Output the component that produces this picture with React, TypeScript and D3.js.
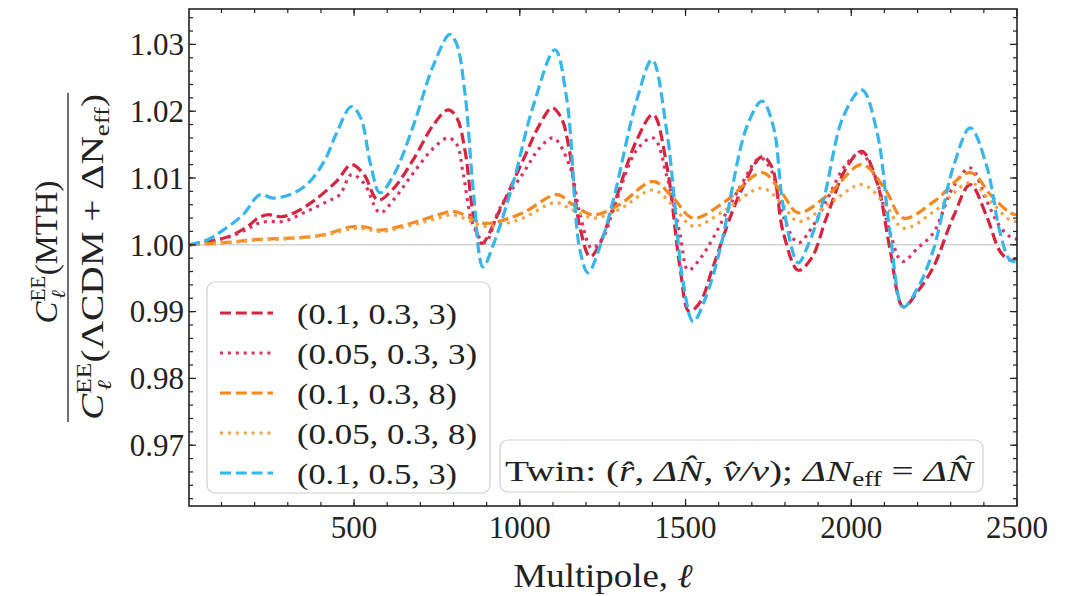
import React from 'react';
import * as d3 from 'd3';

// series labels / styles (legend order = draw order)
const labels = ['(0.1, 0.3, 3)', '(0.05, 0.3, 3)', '(0.1, 0.3, 8)', '(0.05, 0.3, 8)', '(0.1, 0.5, 3)'];
const colors = ['#d8233f', '#d9335d', '#f5891f', '#f8a23f', '#35b6ef'];
const dashes = ['11,4.8', '3,4.9', '11,4.8', '3,4.9', '11,4.8'];

// (0.1, 0.3, 3)
const ellRedDash = [2, 60, 125, 180, 210, 240, 280, 320, 376, 447, 492, 530, 572, 620, 678, 740, 784, 810, 835, 860, 885, 940, 1010, 1060, 1097, 1125, 1150, 1181, 1212, 1240, 1282, 1353, 1402, 1444, 1483, 1511, 1545, 1583, 1665, 1731, 1760, 1795, 1840, 1880, 1926, 1987, 2032, 2078, 2117, 2157, 2200, 2248, 2308, 2359, 2409, 2449, 2479, 2500];
const redDash = [1.000, 1.0005, 1.0013, 1.0028, 1.004, 1.0045, 1.0042, 1.0048, 1.0065, 1.0095, 1.012, 1.0105, 1.0067, 1.0085, 1.0127, 1.018, 1.0202, 1.019, 1.014, 1.0045, 1.0002, 1.0052, 1.0127, 1.018, 1.0205, 1.019, 1.014, 1.0027, 0.9982, 1.0, 1.0057, 1.0157, 1.0195, 1.0117, 0.9967, 0.990, 0.9915, 0.9967, 1.0078, 1.0132, 1.0117, 1.0018, 0.9962, 0.998, 1.0042, 1.0117, 1.014, 1.0093, 0.9993, 0.9907, 0.993, 0.9967, 1.0042, 1.009, 1.0042, 0.999, 0.9977, 0.998];

// (0.05, 0.3, 3)
const ellRedDot = [2, 60, 125, 180, 210, 240, 286, 357, 420, 457, 492, 530, 578, 620, 678, 740, 784, 810, 829, 859, 895, 940, 1010, 1060, 1101, 1151, 1181, 1217, 1250, 1282, 1353, 1403, 1444, 1483, 1508, 1545, 1583, 1665, 1725, 1760, 1795, 1840, 1880, 1926, 1987, 2030, 2078, 2117, 2154, 2200, 2248, 2308, 2359, 2409, 2449, 2479, 2500];
const redDot = [1.000, 1.0005, 1.0012, 1.0024, 1.0032, 1.0035, 1.0035, 1.005, 1.0065, 1.0075, 1.0105, 1.0092, 1.0048, 1.0068, 1.0107, 1.0145, 1.016, 1.015, 1.0107, 1.003, 1.0003, 1.0055, 1.0107, 1.0145, 1.016, 1.0117, 1.0047, 0.9995, 1.001, 1.0052, 1.0142, 1.016, 1.0102, 1.0017, 0.9962, 0.998, 1.001, 1.0087, 1.013, 1.011, 1.0042, 1.0003, 1.0025, 1.0067, 1.0122, 1.0137, 1.0093, 1.0018, 0.9975, 0.9995, 1.0018, 1.0087, 1.0115, 1.0065, 1.0027, 1.0012, 1.0008];

// (0.1, 0.3, 8)
const ellOrangeDash = [2, 125, 206, 306, 407, 492, 530, 578, 678, 740, 799, 840, 880, 920, 1010, 1112, 1160, 1222, 1300, 1402, 1460, 1523, 1620, 1731, 1790, 1840, 1930, 2032, 2100, 2157, 2250, 2359, 2420, 2479, 2500];
const orangeDash = [1.000, 1.0004, 1.0008, 1.001, 1.0015, 1.0027, 1.0027, 1.0022, 1.0033, 1.0043, 1.005, 1.0043, 1.0033, 1.0033, 1.0048, 1.0075, 1.006, 1.0045, 1.006, 1.0095, 1.0072, 1.004, 1.0065, 1.0108, 1.0078, 1.0048, 1.0075, 1.012, 1.0085, 1.004, 1.0065, 1.0108, 1.0075, 1.0048, 1.0045];

// (0.05, 0.3, 8)
const ellOrangeDot = [2, 125, 206, 306, 407, 492, 530, 578, 678, 740, 799, 840, 890, 940, 1010, 1106, 1160, 1222, 1300, 1402, 1460, 1523, 1620, 1731, 1790, 1840, 1930, 2032, 2100, 2157, 2250, 2359, 2420, 2479, 2500];
const orangeDot = [1.000, 1.0003, 1.0007, 1.0009, 1.0014, 1.0024, 1.0024, 1.002, 1.003, 1.0038, 1.0045, 1.0038, 1.0028, 1.003, 1.004, 1.0063, 1.0052, 1.004, 1.0053, 1.0082, 1.006, 1.0028, 1.0052, 1.0085, 1.0062, 1.0035, 1.006, 1.009, 1.0062, 1.0025, 1.005, 1.0093, 1.0065, 1.0037, 1.0035];

// (0.1, 0.5, 3)
const ellBlue = [2, 60, 105, 165, 216, 255, 306, 357, 410, 447, 492, 520, 550, 578, 620, 678, 738, 789, 810, 835, 860, 889, 920, 980, 1040, 1106, 1142, 1181, 1206, 1240, 1282, 1353, 1399, 1444, 1493, 1523, 1560, 1604, 1685, 1731, 1765, 1795, 1840, 1870, 1916, 1976, 2032, 2078, 2117, 2157, 2200, 2248, 2308, 2359, 2409, 2449, 2479, 2500];
const blue = [1.000, 1.0008, 1.0022, 1.0045, 1.0075, 1.007, 1.0075, 1.009, 1.0125, 1.0167, 1.0207, 1.019, 1.012, 1.0078, 1.0105, 1.0177, 1.0267, 1.0315, 1.030, 1.0225, 1.008, 0.9967, 1.000, 1.0093, 1.0207, 1.0292, 1.0217, 0.9993, 0.9958, 0.9995, 1.0067, 1.0217, 1.0277, 1.0168, 0.9943, 0.9885, 0.992, 0.9993, 1.0177, 1.0215, 1.0177, 1.0057, 0.9973, 1.000, 1.0067, 1.0192, 1.0232, 1.0168, 1.0018, 0.9907, 0.9935, 0.9993, 1.0117, 1.0175, 1.0117, 1.0018, 0.9977, 0.9975];

const seriesEll = [ellRedDash, ellRedDot, ellOrangeDash, ellOrangeDot, ellBlue];
const seriesVal = [redDash, redDot, orangeDash, orangeDot, blue];

const xMajor = [500, 1000, 1500, 2000, 2500];
const yMajor = [0.97, 0.98, 0.99, 1.0, 1.01, 1.02, 1.03];

const FONT = '"Liberation Serif", "Times New Roman", serif';

export default function App() {
  const x0 = 189, x1 = 1017, y0 = 9, y1 = 506;
  const x = d3.scaleLinear().domain([2, 2500]).range([x0, x1]);
  const y = d3.scaleLinear().domain([0.9609, 1.0353]).range([y1, y0]);
  const line = d3.line<[number, number]>()
    .x(d => x(d[0]))
    .y(d => y(d[1]))
    .curve(d3.curveCatmullRom.alpha(0.5));

  const xMinor = d3.range(100, 2500, 100);
  const yMinor = d3.range(481, 518).map(i => i * 0.002);

  return (
    <svg width={1071} height={596} style={{ position: 'absolute', left: 0, top: 0, background: '#fff' }} fontFamily={FONT}>
      <defs>
        <clipPath id="plot"><rect x={x0} y={y0} width={x1 - x0} height={y1 - y0} /></clipPath>
      </defs>
      <line x1={x0} x2={x1} y1={y(1)} y2={y(1)} stroke="#d4d4d4" strokeWidth={1.6} />
      <g clipPath="url(#plot)">
        {seriesVal.map((vals, i) => (
          <path key={i}
            d={line(seriesEll[i].map((l, j) => [l, vals[j]] as [number, number])) || ''}
            fill="none" stroke={colors[i]} strokeWidth={3.2} strokeDasharray={dashes[i]} />
        ))}
      </g>

      {/* ticks, inward on all sides */}
      <g stroke="#222" strokeWidth={1.2}>
        {xMajor.map(v => (
          <g key={'xM' + v}>
            <line x1={x(v)} x2={x(v)} y1={y1} y2={y1 - 7} />
            <line x1={x(v)} x2={x(v)} y1={y0} y2={y0 + 7} />
          </g>
        ))}
        {xMinor.map(v => (
          <g key={'xm' + v}>
            <line x1={x(v)} x2={x(v)} y1={y1} y2={y1 - 4} />
            <line x1={x(v)} x2={x(v)} y1={y0} y2={y0 + 4} />
          </g>
        ))}
        {yMajor.map(v => (
          <g key={'yM' + v}>
            <line x1={x0} x2={x0 + 7} y1={y(v)} y2={y(v)} />
            <line x1={x1} x2={x1 - 7} y1={y(v)} y2={y(v)} />
          </g>
        ))}
        {yMinor.map(v => (
          <g key={'ym' + v}>
            <line x1={x0} x2={x0 + 4} y1={y(v)} y2={y(v)} />
            <line x1={x1} x2={x1 - 4} y1={y(v)} y2={y(v)} />
          </g>
        ))}
      </g>
      <rect x={x0} y={y0} width={x1 - x0} height={y1 - y0} fill="none" stroke="#222" strokeWidth={1.6} />

      {/* tick labels */}
      <g fontSize={31} fill="#222">
        {xMajor.map(v => (
          <text key={'xl' + v} x={x(v)} y={538} textAnchor="middle">{v}</text>
        ))}
        {yMajor.map(v => (
          <text key={'yl' + v} x={184} y={y(v)} dy="0.35em" textAnchor="end">{d3.format('.2f')(v)}</text>
        ))}
      </g>

      {/* x label */}
      <text x={603} y={587} textAnchor="middle" fontSize={33} fill="#222" textLength={179} lengthAdjust="spacingAndGlyphs">
        Multipole, <tspan fontStyle="italic">ℓ</tspan>
      </text>

      {/* y label fraction */}
      <g transform="translate(0,257) rotate(-90)" fill="#222">
        <text x={5} y={57} textAnchor="middle" fontSize={31} textLength={143} lengthAdjust="spacingAndGlyphs">
          <tspan fontStyle="italic">C</tspan>
          <tspan fontSize={20} dy={-12}>EE</tspan>
          <tspan fontSize={20} fontStyle="italic" dx={-22} dy={20}>ℓ</tspan>
          <tspan dx={14} dy={-8}>(MTH)</tspan>
        </text>
        <line x1={-165} x2={164} y1={68} y2={68} stroke="#222" strokeWidth={1.3} />
        <text x={0} y={103} textAnchor="middle" fontSize={31} textLength={326} lengthAdjust="spacingAndGlyphs">
          <tspan fontStyle="italic">C</tspan>
          <tspan fontSize={20} dy={-12}>EE</tspan>
          <tspan fontSize={20} fontStyle="italic" dx={-22} dy={20}>ℓ</tspan>
          <tspan dx={14} dy={-8}>(ΛCDM + ΔN</tspan>
          <tspan fontSize={21} dy={6}>eff</tspan>
          <tspan dy={-6}>)</tspan>
        </text>
      </g>

      {/* legend */}
      <rect x={207} y={282} width={283} height={211} rx={8} fill="#fff" fillOpacity={0.85} stroke="#d0d0d0" strokeWidth={1.2} />
      {labels.map((lab, i) => {
        const ly = 313 + i * 40;
        return (
          <g key={'lg' + i}>
            <line x1={220} x2={273} y1={ly} y2={ly} stroke={colors[i]} strokeWidth={3.2} strokeDasharray={dashes[i]} />
            <text x={297} y={ly + 11} fontSize={30} fill="#222" textLength={lab.length > 13 ? 180 : 160} lengthAdjust="spacingAndGlyphs">{lab}</text>
          </g>
        );
      })}

      {/* Twin box */}
      <rect x={500} y={440} width={483} height={52} rx={8} fill="#fff" fillOpacity={0.85} stroke="#d0d0d0" strokeWidth={1.2} />
      <text x={505} y={481} fontSize={29} fill="#222" textLength={468} lengthAdjust="spacingAndGlyphs">
        Twin: (<tspan fontStyle="italic">r̂</tspan>, <tspan fontStyle="italic">ΔN̂</tspan>, <tspan fontStyle="italic">v̂/v</tspan>);  <tspan fontStyle="italic">ΔN</tspan><tspan fontSize={20} dy={5}>eff</tspan><tspan dy={-5}> = </tspan><tspan fontStyle="italic">ΔN̂</tspan>
      </text>
    </svg>
  );
}
